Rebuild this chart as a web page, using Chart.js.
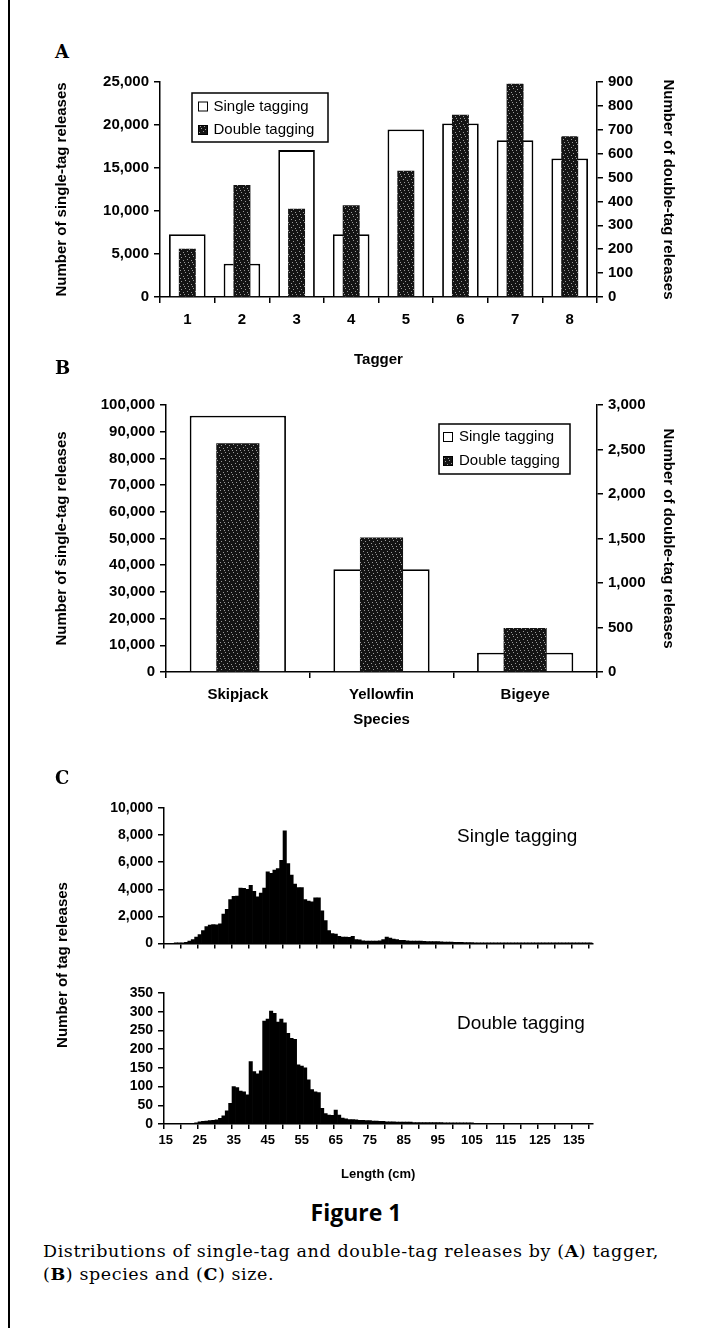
<!DOCTYPE html>
<html>
<head>
<meta charset="utf-8">
<script src="https://cdn.jsdelivr.net/npm/chart.js@4.4.1/dist/chart.umd.min.js"></script>
<style>
  html, body { margin: 0; padding: 0; background: #fff; }
  #page { position: relative; width: 706px; height: 1328px; overflow: hidden; color: #000;
          font-family: "Liberation Sans", Arial, sans-serif; }
  .frame { position: absolute; left: 8px; top: 0; width: 2px; height: 1328px; background: #000; }
  .panel { position: absolute; left: 55px; font: bold 18px/18px "DejaVu Serif", serif; }
  canvas { position: absolute; left: 0; }
  .note { position: absolute; left: 457px; font-size: 19px; line-height: 22px; }
  .ytitle { position: absolute; width: 300px; text-align: center; font-size: 15px; line-height: 18px;
            font-weight: bold; transform: rotate(-90deg); }
  .fig { position: absolute; left: 0; width: 712px; text-align: center;
         font: bold 23px/28px "Open Sans", sans-serif; }
  .caption { position: absolute; left: 43px; font: 17.5px/23px "DejaVu Serif", serif; letter-spacing: 0.6px; }
</style>
</head>
<body>
<div id="page">
  <div class="frame"></div>

  <div class="panel" style="top:43px">A</div>
  <canvas id="chartA" width="706" height="373" style="top:0"></canvas>

  <div class="panel" style="top:359px">B</div>
  <canvas id="chartB" width="706" height="353" style="top:380px"></canvas>

  <div class="panel" style="top:769px">C</div>
  <canvas id="chartC1" width="706" height="167" style="top:790px"></canvas>
  <canvas id="chartC2" width="706" height="211" style="top:975px"></canvas>
  <div class="ytitle" style="left:-88px; top:956px">Number of tag releases</div>
  <div class="note" style="top:825px">Single tagging</div>
  <div class="note" style="top:1012px">Double tagging</div>

  <div class="fig" style="top:1198px">Figure 1</div>
  <div class="caption" style="top:1240px">Distributions of single-tag and double-tag releases by (<b>A</b>) tagger,<br>(<b>B</b>) species and (<b>C</b>) size.</div>
</div>

<script>
// Panel A: releases by tagger
const taggers = ['1', '2', '3', '4', '5', '6', '7', '8'];
const singleByTagger = [7300, 3860, 17080, 7300, 19470, 20170, 18240, 16110];
const doubleByTagger = [202, 469, 369, 384, 528, 763, 893, 673];

// Panel B: releases by species
const species = ['Skipjack', 'Yellowfin', 'Bigeye'];
const singleBySpecies = [96000, 38500, 7250];
const doubleBySpecies = [2570, 1510, 495];

// Panel C: length frequency, 1 cm classes from 15 to 140 cm
const lengths = [
  15, 16, 17, 18, 19, 20, 21, 22, 23, 24,
  25, 26, 27, 28, 29, 30, 31, 32, 33, 34,
  35, 36, 37, 38, 39, 40, 41, 42, 43, 44,
  45, 46, 47, 48, 49, 50, 51, 52, 53, 54,
  55, 56, 57, 58, 59, 60, 61, 62, 63, 64,
  65, 66, 67, 68, 69, 70, 71, 72, 73, 74,
  75, 76, 77, 78, 79, 80, 81, 82, 83, 84,
  85, 86, 87, 88, 89, 90, 91, 92, 93, 94,
  95, 96, 97, 98, 99, 100, 101, 102, 103, 104,
  105, 106, 107, 108, 109, 110, 111, 112, 113, 114,
  115, 116, 117, 118, 119, 120, 121, 122, 123, 124,
  125, 126, 127, 128, 129, 130, 131, 132, 133, 134,
  135, 136, 137, 138, 139, 140
];
const singleByLength = [
  0, 0, 0, 10, 20, 50, 100, 190, 290, 480,
  670, 960, 1250, 1370, 1400, 1390, 1450, 2170, 2530, 3250,
  3490, 3500, 4100, 4080, 4000, 4290, 3860, 3450, 3730, 4100,
  5300, 5180, 5420, 5540, 6140, 8310, 5900, 5060, 4390, 4140,
  4140, 3250, 3130, 3080, 3370, 3370, 2410, 1690, 960, 740,
  700, 530, 480, 480, 470, 530, 300, 280, 200, 190,
  190, 180, 190, 200, 290, 480, 400, 340, 300, 240,
  240, 200, 190, 190, 180, 180, 170, 150, 145, 140,
  140, 130, 120, 110, 110, 100, 95, 90, 80, 80,
  70, 65, 60, 55, 50, 45, 40, 40, 35, 35,
  30, 30, 25, 25, 20, 20, 20, 15, 15, 15,
  15, 10, 10, 10, 10, 10, 10, 5, 5, 5,
  5, 5, 5, 5, 5, 5
];
const doubleByLength = [
  0, 0, 0, 0, 0, 1, 1, 1, 2, 3,
  6, 7, 8, 9, 10, 11, 15, 22, 35, 55,
  100, 97, 88, 86, 78, 167, 140, 134, 142, 275,
  280, 302, 296, 272, 280, 270, 242, 229, 226, 158,
  155, 150, 118, 92, 86, 84, 42, 28, 24, 23,
  37, 24, 16, 14, 12, 12, 11, 10, 10, 9,
  9, 8, 8, 7, 7, 6, 6, 6, 5, 5,
  5, 5, 5, 4, 4, 4, 4, 4, 4, 4,
  4, 4, 3, 3, 3, 3, 3, 3, 3, 3,
  3, 2, 2, 2, 2, 2, 2, 2, 2, 2,
  2, 1, 1, 1, 1, 1, 1, 1, 1, 1,
  1, 1, 1, 1, 1, 1, 1, 1, 1, 1,
  1, 1, 1, 1, 1, 1
];

const FONT = '"Liberation Sans", Arial, sans-serif';
const fmt = v => String(v).replace(/\B(?=(\d{3})+(?!\d))/g, ',');

// dark speckled fill used for the double-tag bars
function speckle() {
  const c = document.createElement('canvas');
  c.width = 8; c.height = 8;
  const g = c.getContext('2d');
  g.fillStyle = '#141414';
  g.fillRect(0, 0, 8, 8);
  g.fillStyle = '#9a9a9a';
  [[1, 0], [5, 1], [3, 3], [7, 4], [0, 6], [4, 6]].forEach(([x, y]) => g.fillRect(x, y, 1, 1));
  return g.createPattern(c, 'repeat');
}
const darkFill = speckle();

// legend drawn as a framed box inside the plot area
const boxLegend = {
  id: 'boxLegend',
  afterDraw(chart, args, o) {
    if (!o || !o.w) return;
    const { ctx, chartArea } = chart;
    const x = chartArea.left + o.dx;
    const y = chartArea.top + o.dy;
    ctx.save();
    ctx.fillStyle = '#fff';
    ctx.fillRect(x, y, o.w, o.h);
    ctx.lineWidth = 1.5;
    ctx.strokeStyle = '#000';
    ctx.strokeRect(x, y, o.w, o.h);
    ctx.font = '15px ' + FONT;
    ctx.textBaseline = 'middle';
    chart.data.datasets.forEach((ds, i) => {
      const cy = y + o.rowTop + i * o.rowGap;
      ctx.fillStyle = ds.backgroundColor;
      ctx.fillRect(x + o.sx, cy - 4.5, 9, 9);
      ctx.lineWidth = 1;
      ctx.strokeRect(x + o.sx, cy - 4.5, 9, 9);
      ctx.fillStyle = '#000';
      ctx.fillText(ds.label, x + o.tx, cy);
    });
    ctx.restore();
  }
};

function yAxis(pos, max, step, width, size, title) {
  return {
    position: pos,
    min: 0,
    max: max,
    ticks: { stepSize: step, autoSkip: false, color: '#000', font: { family: FONT, size: size, weight: 'bold' },
             padding: 5, callback: v => fmt(v) },
    grid: { drawOnChartArea: false, color: '#000', lineWidth: 1.5, tickLength: 6 },
    border: { color: '#000', width: 1.5 },
    title: { display: !!title, text: title || '', color: '#000', font: { family: FONT, size: 15, weight: 'bold' }, padding: 4 },
    afterFit: s => { s.width = width; }
  };
}

function xCategory(height, title, size) {
  return {
    offset: true,
    ticks: { color: '#000', font: { family: FONT, size: size, weight: 'bold' }, padding: 8, maxRotation: 0, autoSkip: false },
    grid: { offset: true, drawOnChartArea: false, color: '#000', lineWidth: 1.5, tickLength: 6 },
    border: { color: '#000', width: 1.5 },
    title: { display: true, text: title, color: '#000', font: { family: FONT, size: 15, weight: 'bold' }, padding: 4 },
    afterFit: s => { s.height = height; }
  };
}

const common = {
  responsive: false,
  animation: false,
  events: []
};

// A
new Chart(document.getElementById('chartA'), {
  type: 'bar',
  data: {
    labels: taggers,
    datasets: [
      { label: 'Single tagging', data: singleByTagger, yAxisID: 'y', backgroundColor: '#fff',
        borderColor: '#000', borderWidth: 1.8, barPercentage: 0.67, categoryPercentage: 1, grouped: false, order: 2 },
      { label: 'Double tagging', data: doubleByTagger, yAxisID: 'y1', backgroundColor: darkFill,
        borderWidth: 0, barPercentage: 0.31, categoryPercentage: 1, grouped: false, order: 1 }
    ]
  },
  options: Object.assign({}, common, {
    layout: { padding: { left: 49, right: 25, top: 82, bottom: 0 } },
    scales: {
      x: xCategory(76, 'Tagger', 15),
      y: yAxis('left', 25000, 5000, 111, 15, 'Number of single-tag releases'),
      y1: yAxis('right', 900, 100, 84, 15, 'Number of double-tag releases')
    },
    plugins: {
      legend: { display: false },
      tooltip: { enabled: false },
      boxLegend: { dx: 32, dy: 11, w: 136, h: 49, rowTop: 13.5, rowGap: 23.5, sx: 6.5, tx: 21.5 }
    }
  }),
  plugins: [boxLegend]
});

// B
new Chart(document.getElementById('chartB'), {
  type: 'bar',
  data: {
    labels: species,
    datasets: [
      { label: 'Single tagging', data: singleBySpecies, yAxisID: 'y', backgroundColor: '#fff',
        borderColor: '#000', borderWidth: 1.8, barPercentage: 0.67, categoryPercentage: 1, grouped: false, order: 2 },
      { label: 'Double tagging', data: doubleBySpecies, yAxisID: 'y1', backgroundColor: darkFill,
        borderWidth: 0, barPercentage: 0.30, categoryPercentage: 1, grouped: false, order: 1 }
    ]
  },
  options: Object.assign({}, common, {
    layout: { padding: { left: 49, right: 25, top: 25, bottom: 0 } },
    scales: {
      x: xCategory(61, 'Species', 15),
      y: yAxis('left', 100000, 10000, 117, 15, 'Number of single-tag releases'),
      y1: yAxis('right', 3000, 500, 84, 15, 'Number of double-tag releases')
    },
    plugins: {
      legend: { display: false },
      tooltip: { enabled: false },
      boxLegend: { dx: 273, dy: 19, w: 131, h: 50, rowTop: 13, rowGap: 24, sx: 4.5, tx: 20 }
    }
  }),
  plugins: [boxLegend]
});

// C: tick marks every 5 cm, labels every 10 cm
const every5 = ctx => ((lengths[ctx.index] - 15) % 5 === 0 ? '#000' : 'rgba(0,0,0,0)');

function histX(height, showLabels) {
  return {
    offset: true,
    ticks: {
      display: showLabels, color: '#000', font: { family: FONT, size: 13, weight: 'bold' }, padding: 4,
      maxRotation: 0, minRotation: 0, autoSkip: false,
      callback: (v, i) => ((lengths[i] - 15) % 10 === 0 ? String(lengths[i]) : '')
    },
    grid: { offset: true, drawOnChartArea: false, drawTicks: true, color: every5, lineWidth: 1.5, tickLength: 5 },
    border: { color: '#000', width: 1.5 },
    title: { display: showLabels, text: 'Length (cm)', color: '#000', font: { family: FONT, size: 13, weight: 'bold' }, padding: 4 },
    afterFit: s => { s.height = height; }
  };
}

function histogram(id, values, label, yMax, yStep, xHeight, showLabels) {
  return new Chart(document.getElementById(id), {
    type: 'bar',
    data: {
      labels: lengths,
      datasets: [{ label: label, data: values, backgroundColor: '#000', borderWidth: 0,
                   barPercentage: 1, categoryPercentage: 1 }]
    },
    options: Object.assign({}, common, {
      layout: { padding: { left: 0, right: 113.5, top: 18, bottom: 0 } },
      scales: {
        x: histX(xHeight, showLabels),
        y: yAxis('left', yMax, yStep, 164, 14, '')
      },
      plugins: { legend: { display: false }, tooltip: { enabled: false } }
    })
  });
}

histogram('chartC1', singleByLength, 'Single tagging', 10000, 2000, 10, false);
histogram('chartC2', doubleByLength, 'Double tagging', 350, 50, 62, true);
</script>
</body>
</html>
